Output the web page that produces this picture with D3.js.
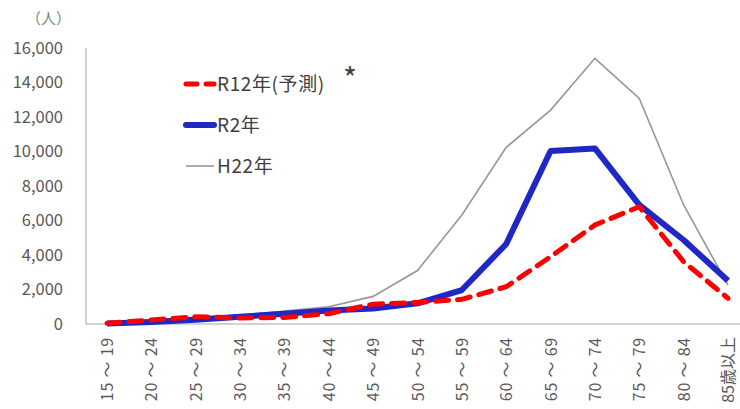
<!DOCTYPE html>
<html><head><meta charset="utf-8">
<script src="https://cdn.jsdelivr.net/npm/d3@7"></script>
<style>body{margin:0;background:#fff}svg{display:block}text{font-family:"Noto Sans CJK JP","Noto Sans",sans-serif}</style>
</head><body>
<svg id="c" width="740" height="409"></svg>
<script>
const categories = ["15 ～ 19","20 ～ 24","25 ～ 29","30 ～ 34","35 ～ 39","40 ～ 44","45 ～ 49","50 ～ 54","55 ～ 59","60 ～ 64","65 ～ 69","70 ～ 74","75 ～ 79","80 ～ 84","85歳以上"];
const r12 = [50, 230, 420, 350, 380, 600, 1150, 1250, 1430, 2160, 3900, 5740, 6800, 3610, 1490];
const r2  = [30, 120, 250, 420, 600, 780, 900, 1200, 1970, 4640, 10030, 10180, 6900, 4870, 2510];
const h22 = [50, 200, 400, 500, 750, 1000, 1600, 3100, 6320, 10240, 12400, 15400, 13080, 6900, 2250];
const yTicks = [0, 2000, 4000, 6000, 8000, 10000, 12000, 14000, 16000];
const seriesNames = ["R12年(予測)", "R2年", "H22年"];

const svg = d3.select("#c");
const x = d3.scalePoint().domain(categories).range([107, 728]);
const y = d3.scaleLinear().domain([0, 16000]).range([324, 48]);

svg.append("line").attr("x1",86).attr("x2",86).attr("y1",48).attr("y2",324).attr("stroke","#a6a6a6").attr("stroke-width",1);
svg.append("line").attr("x1",86).attr("x2",740).attr("y1",324).attr("y2",324).attr("stroke","#a6a6a6").attr("stroke-width",1);

svg.selectAll(".yt").data(yTicks).enter().append("text")
  .attr("x",63).attr("y",d=>y(d)).attr("dy","0.36em").attr("text-anchor","end")
  .attr("font-size",16.5).attr("fill","#595959").text(d=>d3.format(",")(d));
svg.append("text").attr("x",26).attr("y",24).attr("font-size",15).attr("fill","#7f7f7f").text("（人）");

svg.selectAll(".xt").data(categories).enter().append("text")
  .attr("transform",d=>`translate(${x(d)+6},337) rotate(-90)`)
  .attr("text-anchor","end").attr("font-size",16).attr("letter-spacing",d=>d.indexOf("歳")>=0?"0px":"0.8px")
  .attr("fill","#595959").text(d=>d);

const line = d3.line().x((d,i)=>x(categories[i])).y(d=>y(d));
svg.append("path").datum(h22).attr("d",line).attr("fill","none").attr("stroke","#969696").attr("stroke-width",1.6);
svg.append("path").datum(r2).attr("d",line).attr("fill","none").attr("stroke","#1f27c4").attr("stroke-width",6).attr("stroke-linejoin","round");
svg.append("path").datum(r12).attr("d",line).attr("fill","none").attr("stroke","#ff0000").attr("stroke-width",5).attr("stroke-dasharray","13,9").attr("stroke-linecap","round");

const leg = [
  {name:seriesNames[0], y:84, color:"#ff0000", w:5, dash:"11,9", cap:"round"},
  {name:seriesNames[1], y:125, color:"#1f27c4", w:6, dash:null, cap:"round"},
  {name:seriesNames[2], y:166, color:"#969696", w:1.6, dash:null, cap:"butt"}
];
leg.forEach(l=>{
  svg.append("line").attr("x1",186).attr("x2",214).attr("y1",l.y).attr("y2",l.y)
    .attr("stroke",l.color).attr("stroke-width",l.w).attr("stroke-linecap",l.cap).attr("stroke-dasharray",l.dash);
  svg.append("text").attr("x",217).attr("y",l.y).attr("dy","0.36em").attr("font-size",19).attr("letter-spacing","0.6px").attr("fill","#404040").text(l.name);
});
svg.append("text").attr("x",343).attr("y",90).attr("font-size",30).attr("fill","#404040").text("*");
</script>
</body></html>
